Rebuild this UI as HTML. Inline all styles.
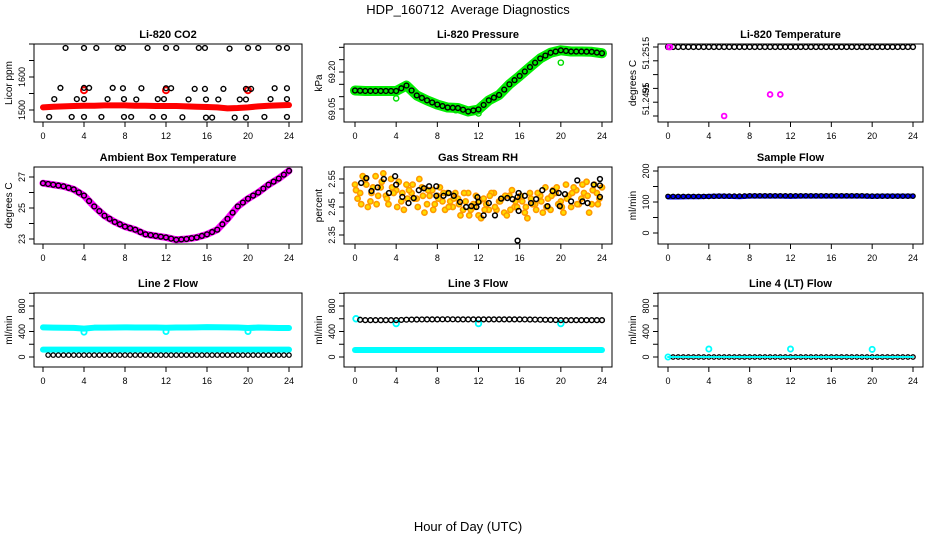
<!DOCTYPE html>
<html><head><meta charset="utf-8"><style>
html,body{margin:0;padding:0;background:#fff}
svg{display:block;font-family:"Liberation Sans",Arial,sans-serif}
</style></head><body>
<svg id="chart" width="936" height="540" viewBox="0 0 936 540">
<text x="468" y="14" text-anchor="middle" font-size="13">HDP_160712&#160; Average Diagnostics</text>
<text x="468" y="531" text-anchor="middle" font-size="13">Hour of Day (UTC)</text>
</svg>
<script>
// ---- data ----
const hours = [0,1,2,3,4,5,6,7,8,9,10,11,12,13,14,15,16,17,18,19,20,21,22,23,24];
const xTicks = [0,4,8,12,16,20,24];
// CO2
const co2RedT = [0,1,2,3,4,5,6,7,8,9,10,11,12,13,14,15,16,17,18,19,20,21,22,23,24];
const co2Red  = [1508,1510,1511,1512,1513,1513,1514,1514,1514,1513,1513,1512,1512,1512,1511,1510,1509,1508,1505,1506,1508,1511,1513,1514,1515];
const co2SpikeT = [4,12,20];
const co2Spike  = [1560,1560,1560];
const co2BlkT = [2.2,4,5.2,7.3,7.8,10.2,12,13,15.2,15.8,18.2,20,21,23,23.8, 1.7,4,4.5,6.8,7.8,9.6,12,12.5,14.8,15.8,17.6,19.8,20.3,22.6,23.8, 1.1,3.3,4,6.3,7.9,9.1,11.2,11.8,14.2,15.9,17.1,19.2,19.8,22.2,23.8, 0.6,2.8,4,5.7,7.9,8.6,10.7,11.8,13.6,15.9,16.5,18.7,19.8,21.6,23.8];
const co2Blk  = [1688,1688,1688,1688,1688,1688,1688,1688,1688,1688,1686,1688,1688,1688,1688, 1567,1567,1567,1567,1566,1566,1566,1566,1564,1564,1564,1564,1564,1566,1566, 1533,1533,1533,1533,1533,1532,1533,1533,1532,1532,1532,1532,1532,1533,1533, 1479,1479,1479,1479,1479,1479,1479,1479,1478,1477,1477,1477,1477,1479,1479];
// Pressure
const presGreen = [69.125,69.123,69.123,69.123,69.123,69.145,69.105,69.085,69.068,69.056,69.054,69.040,69.048,69.085,69.107,69.150,69.184,69.220,69.255,69.278,69.288,69.283,69.283,69.282,69.276];
const presOutT = [4,12,20,9.8];
const presOut  = [69.093,69.032,69.238,69.045];
// Li-820 temperature
const ltempT = [0.1,0.2,5.5,10,11];
const ltemp  = [51.2515,51.2515,51.2490,51.24978,51.24978];
const ltempMain = [51.2515,51.2515,51.2515,51.2515,51.2515,51.2515,51.2515,51.2515,51.2515,51.2515,51.2515,51.2515,51.2515,51.2515,51.2515,51.2515,51.2515,51.2515,51.2515,51.2515,51.2515,51.2515,51.2515,51.2515,51.2515];
// Ambient
const ambient = [26.6,26.5,26.4,26.2,25.8,25.1,24.5,24.1,23.8,23.6,23.3,23.2,23.1,22.95,23.0,23.1,23.3,23.6,24.3,25.1,25.6,26.0,26.5,26.9,27.4];
// RH
const rhA = [2.53,2.50,2.55,2.47,2.56,2.52,2.49,2.55,2.51,2.47,2.53,2.50,2.48,2.52,2.46,2.51,2.49,2.47,2.50,2.45,2.48,2.44,2.50,2.46,2.42,2.48,2.44,2.50,2.47,2.43,2.49,2.45,2.48,2.43,2.50,2.46,2.49,2.52,2.44,2.50,2.47,2.53,2.45,2.51,2.48,2.54,2.46,2.50,2.52];
const rhB = [2.48,2.56,2.45,2.52,2.49,2.57,2.46,2.50,2.54,2.44,2.51,2.48,2.55,2.43,2.49,2.46,2.52,2.44,2.47,2.50,2.42,2.47,2.44,2.49,2.41,2.46,2.50,2.44,2.48,2.42,2.51,2.45,2.47,2.41,2.46,2.50,2.43,2.48,2.51,2.46,2.43,2.49,2.52,2.46,2.50,2.43,2.53,2.48];
const rhC = [2.51,2.46,2.53,2.50,2.46,2.54,2.48,2.52,2.45,2.50,2.48,2.53,2.45,2.49,2.51,2.44,2.48,2.50,2.45,2.48,2.46,2.50,2.42,2.45,2.47,2.44,2.49,2.45,2.47,2.49,2.44,2.47,2.49,2.45,2.48,2.44,2.47,2.45,2.49,2.52,2.45,2.48,2.50,2.46,2.53,2.49,2.51,2.46];
const rhBlkT = [0.6,1.1,1.6,2.2,2.8,3.3,3.9,4,4.6,5.2,5.7,6.2,6.7,7.2,7.9,7.9,8.6,9.1,9.6,10.2,10.8,11.3,11.8,11.9,12,12.5,13,13.6,14.2,14.8,15.3,15.8,15.9,15.9,15.8,16.5,17.1,17.6,18.2,18.7,19.2,19.8,19.9,20.4,21,21.6,22.1,22.6,23.2,23.8,23.8,23.8];
const rhBlk  = [2.536,2.553,2.507,2.52,2.55,2.50,2.56,2.53,2.486,2.464,2.482,2.51,2.517,2.524,2.524,2.49,2.49,2.50,2.49,2.468,2.45,2.453,2.45,2.485,2.468,2.42,2.464,2.42,2.48,2.482,2.478,2.486,2.50,2.436,2.33,2.49,2.464,2.478,2.51,2.453,2.507,2.50,2.453,2.496,2.47,2.545,2.47,2.464,2.53,2.55,2.527,2.486];
// Sample flow
const sampleBlue = [116,116,117,117,118,119,118,117,119,119,119,119,118,119,119,119,119,119,119,119,118,119,119,119,119];
const sampleBlk  = [118,118,118,118,118,119,119,119,120,120,120,120,120,120,120,120,120,120,120,120,119,119,119,119,119];
// Line 2
const l2CyanHi = [465,460,458,457,445,460,460,462,465,462,462,462,458,462,462,464,468,466,464,462,455,462,458,455,455];
const l2CyanLo = [115,115,115,115,115,115,115,115,115,115,115,115,115,115,115,115,115,115,115,115,115,115,115,115,115];
const l2Blk    = [30,30,30,30,30,30,30,30,30,30,30,30,30,30,30,30,30,30,30,30,30,30,30,30,30];
const l2DipT = [4,12,20];
const l2Dip  = [390,400,400];
// Line 3
const l3Blk    = [590,578,578,578,578,585,588,590,590,592,590,590,590,590,590,590,590,588,585,582,578,578,578,578,578];
const l3CyanLo = [110,110,110,110,110,110,110,110,110,110,110,110,110,110,110,110,110,110,110,110,110,110,110,110,110];
const l3DipT = [0.1,4,12,20];
const l3Dip  = [600,525,525,525];
// Line 4
const l4Blk  = [0,0,0,0,0,0,0,0,0,0,0,0,0,0,0,0,0,0,0,0,0,0,0,0,0];
const l4SpikeT = [0,4,12,20];
const l4Spike  = [0,125,125,120];

// ---- layout ----
const svg = document.getElementById('chart');
const NS = 'http://www.w3.org/2000/svg';
const cols = [{L:34,R:302,a:43,b:289},{L:344,R:612,a:355,b:602},{L:658,R:923,a:668,b:913}];
const rows = [{T:44,B:122},{T:167,B:244},{T:293,B:367}];
function mk(tag, attrs, parent){const e=document.createElementNS(NS,tag);for(const k in attrs)e.setAttribute(k,attrs[k]);(parent||svg).appendChild(e);return e;}

function panel(c,r,title,ytitle,v0,y0,v1,y1,ticks,labVals,labTxt){
  const C=cols[c],R=rows[r];
  const g=mk('g',{});
  
  
  const sx=t=>C.a+(C.b-C.a)*t/24;
  const sy=v=>y0+(v-v0)*(y1-y0)/(v1-v0);
  const box=mk('rect',{x:C.L,y:R.T,width:C.R-C.L,height:R.B-R.T,fill:'none',stroke:'#000','stroke-width':1},g);
  
  
  const t=mk('text',{x:(C.L+C.R)/2,y:R.T-6,'text-anchor':'middle','font-size':11,'font-weight':'bold'},g);
  t.textContent=title;
  
  
  const xa=mk('g',{},g);
  
  
  mk('line',{x1:sx(0),x2:sx(24),y1:R.B,y2:R.B,stroke:'#000'},xa);
  xTicks.forEach(v=>{mk('line',{x1:sx(v),x2:sx(v),y1:R.B,y2:R.B+5,stroke:'#000'},xa);
    const tl=mk('text',{x:sx(v),y:R.B+17,'text-anchor':'middle','font-size':9},xa);tl.textContent=v;
    
    });
  const ya=mk('g',{},g);
  
  
  mk('line',{x1:C.L,x2:C.L,y1:sy(ticks[0]),y2:sy(ticks[ticks.length-1]),stroke:'#000'},ya);
  ticks.forEach(v=>mk('line',{x1:C.L-5,x2:C.L,y1:sy(v),y2:sy(v),stroke:'#000'},ya));
  labVals.forEach((v,i)=>{const yy=sy(v);const tl=mk('text',{x:C.L-9,y:yy,'text-anchor':'middle','font-size':9,transform:`rotate(-90 ${C.L-9} ${yy})`},ya);tl.textContent=labTxt[i];
    
    });
  const yt=mk('text',{x:C.L-22,y:(R.T+R.B)/2,'text-anchor':'middle','font-size':10,transform:`rotate(-90 ${C.L-22} ${(R.T+R.B)/2})`},g);
  yt.textContent=ytitle;
  
  
  const clip='clip'+c+r;
  const cp=mk('clipPath',{id:clip},g);mk('rect',{x:C.L,y:R.T,width:C.R-C.L,height:R.B-R.T},cp);
  const dg=mk('g',{'clip-path':`url(#${clip})`},g);
  
  
  return {sx,sy,dg};
}
function band(P,ts,vs,color,w,name){
  const pl=mk('polyline',{points:ts.map((t,i)=>P.sx(t)+','+P.sy(vs[i])).join(' '),fill:'none',stroke:color,'stroke-width':w,'stroke-linejoin':'round','stroke-linecap':'round'},P.dg);
  
  
}
function pts(P,ts,vs,color,r,sw,name,fill){
  ts.forEach((t,i)=>{const c=mk('circle',{cx:P.sx(t),cy:P.sy(vs[i]),r:r,fill:fill||'none',stroke:color,'stroke-width':sw},P.dg);
    
    });
}
function halves(arr){return arr.map((_,i)=>i+0.5).filter(t=>t<24);}
function mids(arr){const o=[];for(let i=0;i<arr.length-1;i++)o.push((arr[i]+arr[i+1])/2);return o;}

let P=panel(0,0,'Li-820 CO2','Licor ppm',1500,110,1600,77,[1500,1550,1600,1650,1700],[1500,1600],['1500','1600']);
band(P,co2RedT,co2Red,'#ff0000',6,'co2-red-series');
pts(P,co2SpikeT,co2Spike,'#ff0000',3,2,'co2-red-point');
pts(P,co2BlkT,co2Blk,'#000',2.4,1.4,'co2-black-point');
P=panel(1,0,'Li-820 Pressure','kPa',69.05,109,69.20,72,[69.05,69.10,69.15,69.20,69.25,69.30],[69.05,69.20],['69.05','69.20']);
band(P,hours,presGreen,'#00ee00',10,'pressure-green-band');
pts(P,presOutT,presOut,'#00dd00',2.6,1.4,'pressure-green-point');
pts(P,hours,presGreen,'#000',2.4,1.4,'pressure-black-point');
pts(P,halves(hours),mids(presGreen),'#000',2.4,1.4,'pressure-black-point');
P=panel(2,0,'Li-820 Temperature','degrees C',51.2515,47,51.2490,116,[51.2490,51.2495,51.2500,51.2505,51.2510,51.2515],[51.25128,51.2500,51.24962],['51.2515','51','51.2495']);
pts(P,hours,ltempMain,'#000',2.4,1.4,'ltemp-black-point');
pts(P,halves(hours),mids(ltempMain),'#000',2.4,1.4,'ltemp-black-point');
pts(P,ltempT,ltemp,'#ff00ff',2.4,1.8,'ltemp-magenta-point');
P=panel(0,1,'Ambient Box Temperature','degrees C',23,239,27,177,[23,24,25,26,27],[23,25,27],['23','25','27']);
band(P,hours,ambient,'#ff00ff',7,'ambient-magenta-band');
pts(P,hours,ambient,'#000',2.4,1.4,'ambient-black-point');
pts(P,halves(hours),mids(ambient),'#000',2.4,1.4,'ambient-black-point');
P=panel(1,1,'Gas Stream RH','percent',2.35,235,2.55,179,[2.35,2.40,2.45,2.50,2.55],[2.35,2.45,2.55],['2.35','2.45','2.55']);
pts(P,rhA.map((_,i)=>i*0.5),rhA,'#ff9900',2.6,1.6,'rh-orange-point','#ffdd00');
pts(P,rhB.map((_,i)=>i*0.5+0.25),rhB,'#ff9900',2.6,1.6,'rh-orange-point','#ffdd00');
pts(P,rhC.map((_,i)=>i*0.5+0.1),rhC,'#ff9900',2.6,1.6,'rh-orange-point','#ffdd00');
pts(P,rhBlkT,rhBlk,'#000',2.4,1.5,'rh-black-point');
P=panel(2,1,'Sample Flow','ml/min',0,233,200,171,[0,50,100,150,200],[0,100,200],['0','100','200']);
band(P,hours,sampleBlue,'#0000ff',5,'sample-blue-band');
pts(P,hours,sampleBlk,'#000',2.2,1.3,'sample-black-point');
pts(P,halves(hours),mids(sampleBlk),'#000',2.2,1.3,'sample-black-point');
const flowTicks=[0,200,400,600,800,1000];
P=panel(0,2,'Line 2 Flow','ml/min',0,357,800,306,flowTicks,[0,400,800],['0','400','800']);
band(P,hours,l2CyanHi,'#00ffff',6,'line2-cyan-high');
band(P,hours,l2CyanLo,'#00ffff',6,'line2-cyan-low');
pts(P,l2DipT,l2Dip,'#00ffff',2.6,1.8,'line2-cyan-point');
pts(P,hours.slice(1),l2Blk.slice(1),'#000',2.2,1.3,'line2-black-point');
pts(P,halves(hours),mids(l2Blk),'#000',2.2,1.3,'line2-black-point');
P=panel(1,2,'Line 3 Flow','ml/min',0,357,800,306,flowTicks,[0,400,800],['0','400','800']);
band(P,hours,l3CyanLo,'#00ffff',6,'line3-cyan-low');
pts(P,l3DipT,l3Dip,'#00ffff',2.8,1.8,'line3-cyan-point');
pts(P,hours.slice(1),l3Blk.slice(1),'#000',2.4,1.4,'line3-black-point');
pts(P,halves(hours),mids(l3Blk),'#000',2.4,1.4,'line3-black-point');
P=panel(2,2,'Line 4 (LT) Flow','ml/min',0,357,800,306,flowTicks,[0,400,800],['0','400','800']);
pts(P,l4SpikeT,l4Spike,'#00ffff',2.6,1.8,'line4-cyan-point');
pts(P,hours.slice(1),l4Blk.slice(1),'#000',2.2,1.3,'line4-black-point');
pts(P,halves(hours),mids(l4Blk),'#000',2.2,1.3,'line4-black-point');
band(P,hours,l4Blk,'#00ffff',2,'line4-cyan-base');
</script>
</body></html>
